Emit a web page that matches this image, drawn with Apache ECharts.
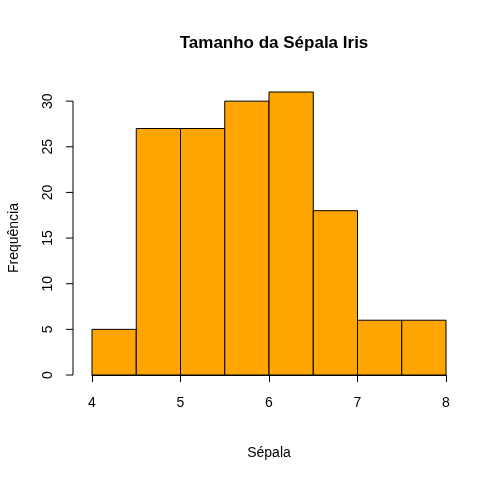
<!DOCTYPE html>
<html>
<head>
<meta charset="UTF-8">
<script src="https://cdn.jsdelivr.net/npm/echarts@6/dist/echarts.min.js"></script>
<style>html,body{margin:0;background:#fff}#c{width:501px;height:485px}</style>
</head>
<body>
<div id="c"></div>
<script>
var binStart = [4, 4.5, 5, 5.5, 6, 6.5, 7, 7.5];
var binEnd   = [4.5, 5, 5.5, 6, 6.5, 7, 7.5, 8];
var counts   = [5, 27, 27, 30, 31, 18, 6, 6];

var bars = [];
for (var i = 0; i < counts.length; i++) bars.push([binStart[i], binEnd[i], counts[i]]);

var chart = echarts.init(document.getElementById('c'));
var font = 'Liberation Sans, Arial, sans-serif';
chart.setOption({
    backgroundColor: '#fff',
    animation: false,
    title: {
        text: 'Tamanho da Sépala Iris', left: 269, top: 30, textAlign: 'center',
        textStyle: {fontSize: 17, fontWeight: 'bold', color: '#000', fontFamily: font}
    },
    grid: {left: 92, right: 55, top: 92, bottom: 110},
    xAxis: {
        type: 'value', min: 4, max: 8, interval: 1,
        offset: 11,
        name: 'Sépala', nameLocation: 'middle', nameGap: 60,
        nameTextStyle: {fontSize: 14, color: '#000', fontFamily: font},
        axisLine: {lineStyle: {color: '#000'}},
        axisTick: {length: 7, lineStyle: {color: '#000'}},
        axisLabel: {fontSize: 14, color: '#000', margin: 10, fontFamily: font},
        splitLine: {show: false}
    },
    yAxis: {
        type: 'value', min: 0, max: 31,
        offset: 19,
        axisLine: {show: false},
        axisTick: {show: false},
        axisLabel: {show: false},
        splitLine: {show: false}
    },
    series: [{
        type: 'custom',
        data: bars,
        renderItem: function (params, api) {
            var p0 = api.coord([api.value(0), 0]);
            var p1 = api.coord([api.value(1), api.value(2)]);
            return {
                type: 'rect',
                shape: {x: p0[0], y: p1[1], width: p1[0] - p0[0], height: p0[1] - p1[1]},
                style: {fill: '#FFA500', stroke: '#000', lineWidth: 1}
            };
        }
    }, {
        // y axis drawn R-style: line only from 0 to 30, ticks every 5
        type: 'custom',
        data: [[0]],
        renderItem: function (params, api) {
            var ax = api.coord([4, 0])[0] - 19;
            var children = [];
            var top = api.coord([4, 30])[1], bot = api.coord([4, 0])[1];
            children.push({type: 'line', shape: {x1: ax, y1: top, x2: ax, y2: bot}, style: {stroke: '#000', lineWidth: 1}});
            for (var v = 0; v <= 30; v += 5) {
                var y = api.coord([4, v])[1];
                children.push({type: 'line', shape: {x1: ax - 7, y1: y, x2: ax, y2: y}, style: {stroke: '#000', lineWidth: 1}});
                children.push({type: 'text', x: ax - 25, y: y, rotation: Math.PI / 2,
                    style: {text: String(v), fill: '#000', fontSize: 14, fontFamily: font, align: 'center', verticalAlign: 'middle'}});
            }
            children.push({type: 'text', x: 14, y: (top + bot) / 2, rotation: Math.PI / 2,
                style: {text: 'Frequência', fill: '#000', fontSize: 14, fontFamily: font, align: 'center', verticalAlign: 'middle'}});
            return {type: 'group', children: children};
        }
    }]
});
</script>
</body>
</html>
